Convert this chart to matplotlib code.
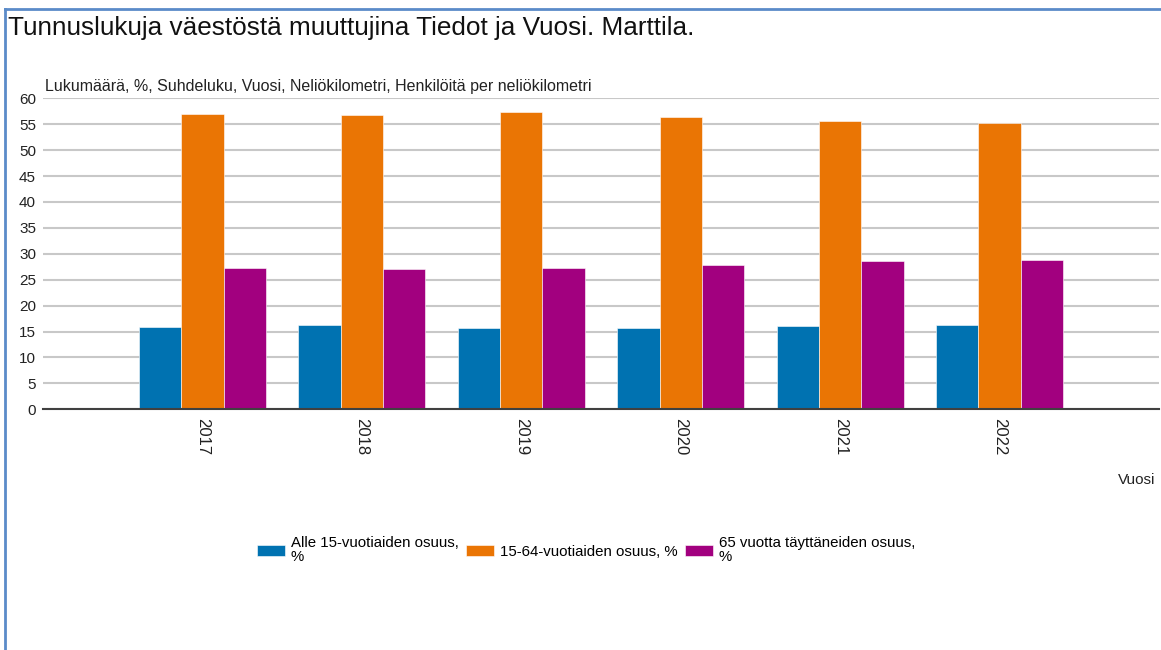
import matplotlib.pyplot as plt
import numpy as np
from matplotlib.lines import Line2D

plt.rcParams['font.family'] = ['Liberation Sans', 'DejaVu Sans']

# ---- datos ----
vuodet = ['2017', '2018', '2019', '2020', '2021', '2022']
alle15 = [15.8, 16.3, 15.6, 15.7, 16.0, 16.3]
v15_64 = [57.0, 56.8, 57.3, 56.3, 55.6, 55.3]
yli65 = [27.3, 27.0, 27.3, 27.8, 28.6, 28.8]

sarjat = ['Alle 15-vuotiaiden osuus,\n%', '15-64-vuotiaiden osuus, %',
          '65 vuotta täyttäneiden osuus,\n%']
varit = ['#0072b1', '#ea7504', '#a2007f']

# ---- figura ----
fig = plt.figure(figsize=(11.61, 6.5), dpi=100)
ax = fig.add_axes([43 / 1161, 1 - 409.3 / 650, (1159 - 43) / 1161, (409.3 - 98.3) / 650])

x = np.arange(len(vuodet))
w = 0.265
for i, (arvot, nimi, vari) in enumerate(zip([alle15, v15_64, yli65], sarjat, varit)):
    ax.bar(x + (i - 1) * w, arvot, w, color=vari, label=nimi,
           edgecolor='white', linewidth=0.4)

ax.set_xlim(-1, len(vuodet))
ax.set_ylim(0, 60)
ax.set_yticks(range(0, 61, 5))
ax.set_xticks(x)
ax.set_xticklabels(vuodet, rotation=-90, va='top', ha='center')
ax.tick_params(axis='both', length=0, colors='#222222')
ax.tick_params(axis='x', pad=6, labelsize=12)
ax.tick_params(axis='y', pad=5, labelsize=11)
ax.yaxis.grid(True, color='#c8c8c8', linewidth=1.5)
ax.set_axisbelow(True)
for s in ['top', 'right', 'left']:
    ax.spines[s].set_visible(False)
ax.spines['bottom'].set_color('#404040')
ax.spines['bottom'].set_linewidth(1.5)

# textos
fig.text(8 / 1161, 1 - 28 / 650, 'Tunnuslukuja väestöstä muuttujina Tiedot ja Vuosi. Marttila.',
         fontsize=18.8, va='center', ha='left', color='#111111')
fig.text(45 / 1161, 1 - 94 / 650,
         'Lukumäärä, %, Suhdeluku, Vuosi, Neliökilometri, Henkilöitä per neliökilometri',
         fontsize=11.5, va='bottom', ha='left', color='#222222')
fig.text(1155 / 1161, 1 - 480 / 650, 'Vuosi', fontsize=11, ha='right', va='center',
         color='#222222')

leg = fig.legend(loc='center', bbox_to_anchor=(586 / 1161, 1 - 550 / 650), ncol=3,
                 frameon=False, fontsize=10.8, handlelength=1.87, handleheight=0.73,
                 handletextpad=0.4, columnspacing=0.47)
for t in leg.get_texts():
    t.set_linespacing(1.0)

# marco azul
fig.add_artist(Line2D([5 / 1161, 5 / 1161], [0, 1 - 9 / 650], color='#5b8bc9', linewidth=2,
                      transform=fig.transFigure))
fig.add_artist(Line2D([5 / 1161, 1], [1 - 9 / 650, 1 - 9 / 650], color='#5b8bc9', linewidth=2,
                      transform=fig.transFigure))

fig.savefig('out.png', dpi=100)
